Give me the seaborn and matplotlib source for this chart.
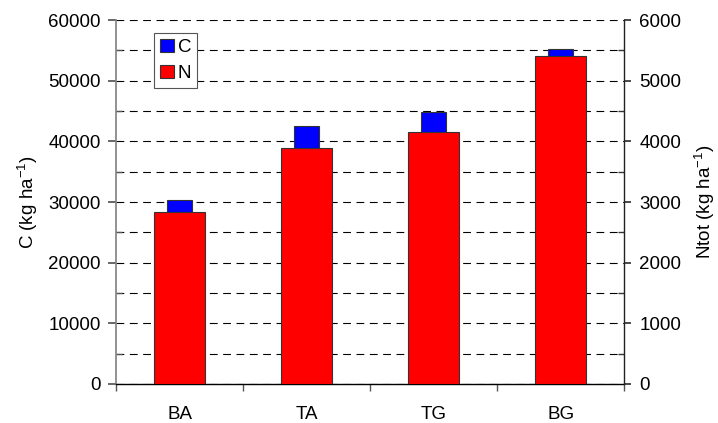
import matplotlib
matplotlib.use("Agg")
import matplotlib.pyplot as plt
import seaborn as sns
import pandas as pd
import numpy as np
from matplotlib.ticker import MultipleLocator
from matplotlib.patches import Patch

sites = ["BA", "TA", "TG", "BG"]
carbon = [30250, 42450, 44800, 55300]
nitrogen = [2830, 3890, 4150, 5410]

sns.set_theme(style="white")
plt.rcParams["font.family"] = ["Liberation Sans", "DejaVu Sans"]
plt.rcParams["mathtext.default"] = "regular"
plt.rcParams["text.color"] = "black"
plt.rcParams["axes.labelcolor"] = "black"
plt.rcParams["xtick.color"] = "black"
plt.rcParams["ytick.color"] = "black"
FS = 13.5

df = pd.DataFrame({"site": sites, "C": carbon, "N": nitrogen})

fig = plt.figure(figsize=(7.18, 4.23), dpi=100)
ax = fig.add_axes([0.1616, 0.0922, 0.7076, 0.8605])
ax2 = ax.twinx()

sns.barplot(data=df, x="site", y="C", ax=ax, color="#0000FF", width=0.2,
            saturation=1, edgecolor="#333333", linewidth=0.8, order=sites)
sns.barplot(data=df, x="site", y="N", ax=ax2, color="#FF0000", width=0.4,
            saturation=1, edgecolor="#333333", linewidth=0.8, order=sites)

ax.set_ylim(0, 60000)
ax2.set_ylim(0, 6000)
ax.set_xlim(-0.5, 3.5)

ax.yaxis.set_major_locator(MultipleLocator(10000))
ax.yaxis.set_minor_locator(MultipleLocator(5000))
ax2.yaxis.set_major_locator(MultipleLocator(1000))
ax2.yaxis.set_minor_locator(MultipleLocator(500))

ax.set_axisbelow(True)
ax.grid(True, which="both", axis="y", color="black", linestyle=(0, (7, 5)), linewidth=0.8)
ax.grid(False, axis="x")

ax.set_xticks(range(len(sites)))
ax.set_xticklabels(sites, fontsize=FS)
ax.set_xticks(np.arange(-0.5, 4.0, 1.0), minor=True)
ax.tick_params(axis="x", which="major", length=0, pad=16)
ax.tick_params(axis="x", which="minor", length=5, direction="out", color="#555555", bottom=True)

ax.tick_params(axis="y", which="major", length=6, direction="out", color="#555555", left=True, labelsize=FS, pad=5)
ax.tick_params(axis="y", which="minor", length=4, direction="in", color="#555555", left=True)
ax2.tick_params(axis="y", which="major", length=5, direction="out", color="#333333", right=True, labelsize=FS, pad=6)
ax2.tick_params(axis="y", which="minor", length=4, direction="in", color="#333333", right=True)

ax.set_xlabel("")
ax.set_ylabel("C (kg ha$^{-1}$)", fontsize=FS, labelpad=6)
ax2.set_ylabel("Ntot (kg ha$^{-1}$)", fontsize=FS, rotation=90, labelpad=8)

for a in (ax, ax2):
    a.spines["top"].set_visible(False)
ax.spines["left"].set_color("#808080")
ax.spines["left"].set_linewidth(1.2)
ax.spines["right"].set_visible(False)
ax.spines["bottom"].set_color("black")
ax.spines["bottom"].set_linewidth(1.0)
ax2.spines["left"].set_visible(False)
ax2.spines["bottom"].set_visible(False)
ax2.spines["right"].set_color("#222222")
ax2.spines["right"].set_linewidth(1.0)

handles = [Patch(facecolor="#0000FF", edgecolor="#333333", linewidth=0.8, label="C"),
           Patch(facecolor="#FF0000", edgecolor="#333333", linewidth=0.8, label="N")]
leg = ax2.legend(handles=handles, loc="upper left", bbox_to_anchor=(0.075, 0.964),
                 frameon=True, fancybox=False, edgecolor="#555555", framealpha=1,
                 handlelength=0.75, handleheight=0.75, handletextpad=0.2,
                 borderpad=0.3, labelspacing=0.45, fontsize=FS, borderaxespad=0)
leg.get_frame().set_linewidth(0.8)

fig.savefig("out.png", dpi=100)
